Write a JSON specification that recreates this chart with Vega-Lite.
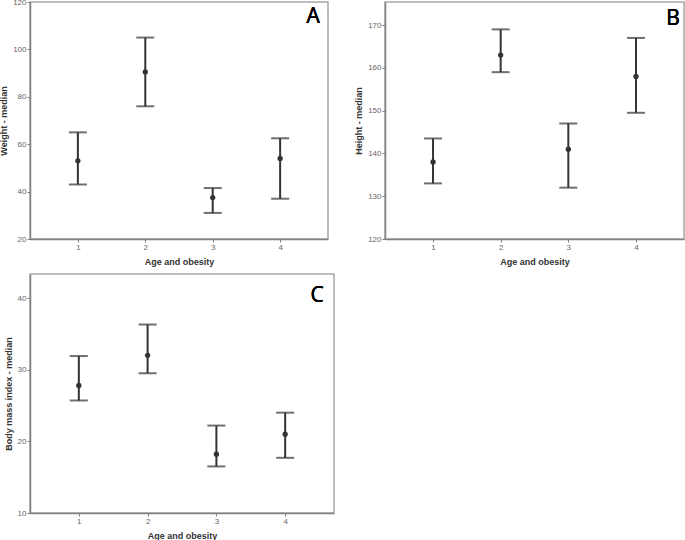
{
  "$schema": "https://vega.github.io/schema/vega-lite/v6.json",
  "padding": {"left": -2, "top": -3, "right": 0, "bottom": 0},
  "background": "white",
  "datasets": {
    "A": [
      {"group": 1, "median": 53, "lo": 43, "hi": 65},
      {"group": 2, "median": 90.5, "lo": 76, "hi": 105},
      {"group": 3, "median": 37.5, "lo": 31, "hi": 41.5},
      {"group": 4, "median": 54, "lo": 37, "hi": 62.5}
    ],
    "B": [
      {"group": 1, "median": 138, "lo": 133, "hi": 143.5},
      {"group": 2, "median": 163, "lo": 159, "hi": 169},
      {"group": 3, "median": 141, "lo": 132, "hi": 147},
      {"group": 4, "median": 158, "lo": 149.5, "hi": 167}
    ],
    "C": [
      {"group": 1, "median": 27.8, "lo": 25.7, "hi": 31.9},
      {"group": 2, "median": 32, "lo": 29.5, "hi": 36.3},
      {"group": 3, "median": 18.2, "lo": 16.5, "hi": 22.2},
      {"group": 4, "median": 21, "lo": 17.7, "hi": 24}
    ]
  },
  "config": {
    "font": "Liberation Sans",
    "view": {"stroke": "#a8a8a8", "strokeWidth": 1.5},
    "axis": {
      "grid": false,
      "domainColor": "#808080",
      "domainWidth": 1.5,
      "tickColor": "#808080",
      "tickSize": 3,
      "labelColor": "#666666",
      "labelFontSize": 8,
      "labelPadding": 1,
      "titleFontSize": 9,
      "titleFontWeight": "bold",
      "titleColor": "#333333"
    }
  },
  "vconcat": [
    {
      "hconcat": [
        {
          "width": 298, "height": 237,
          "data": {"name": "A"},
          "encoding": {
            "x": {"field": "group", "type": "ordinal", "scale": {"type": "point", "padding": 0.71}, "axis": {"title": "Age and obesity", "labelAngle": 0, "titlePadding": 6}},
            "y": {"field": "median", "type": "quantitative", "scale": {"domain": [20, 120], "nice": false, "zero": false}, "axis": {"title": "Weight - median", "values": [20, 40, 60, 80, 100, 120], "titlePadding": 4}}
          },
          "layer": [
            {"mark": {"type": "rule", "color": "#333333", "strokeWidth": 2}, "encoding": {"y": {"field": "lo", "type": "quantitative"}, "y2": {"field": "hi"}}},
            {"mark": {"type": "tick", "color": "#333333", "thickness": 2, "size": 18}, "encoding": {"y": {"field": "lo", "type": "quantitative"}}},
            {"mark": {"type": "tick", "color": "#333333", "thickness": 2, "size": 18}, "encoding": {"y": {"field": "hi", "type": "quantitative"}}},
            {"mark": {"type": "point", "filled": true, "color": "#333333", "size": 28, "opacity": 1}},
            {"mark": {"type": "text", "text": "A", "fontSize": 21, "fontWeight": "normal", "align": "center", "baseline": "alphabetic", "dx": 33, "dy": 21, "color": "#000000", "font": "Open Sans"}, "encoding": {"x": {"datum": 4}, "y": {"datum": 120}}}
          ]
        },
        {
          "width": 299, "height": 237,
          "data": {"name": "B"},
          "encoding": {
            "x": {"field": "group", "type": "ordinal", "scale": {"type": "point", "padding": 0.71}, "axis": {"title": "Age and obesity", "labelAngle": 0, "titlePadding": 6}},
            "y": {"field": "median", "type": "quantitative", "scale": {"domain": [120, 175.4], "nice": false, "zero": false}, "axis": {"title": "Height - median", "values": [120, 130, 140, 150, 160, 170], "titlePadding": 4}}
          },
          "layer": [
            {"mark": {"type": "rule", "color": "#333333", "strokeWidth": 2}, "encoding": {"y": {"field": "lo", "type": "quantitative"}, "y2": {"field": "hi"}}},
            {"mark": {"type": "tick", "color": "#333333", "thickness": 2, "size": 18}, "encoding": {"y": {"field": "lo", "type": "quantitative"}}},
            {"mark": {"type": "tick", "color": "#333333", "thickness": 2, "size": 18}, "encoding": {"y": {"field": "hi", "type": "quantitative"}}},
            {"mark": {"type": "point", "filled": true, "color": "#333333", "size": 28, "opacity": 1}},
            {"mark": {"type": "text", "text": "B", "fontSize": 21, "fontWeight": "normal", "align": "center", "baseline": "alphabetic", "dx": 37, "dy": 23, "color": "#000000", "font": "Open Sans"}, "encoding": {"x": {"datum": 4}, "y": {"datum": 175.4}}}
          ]
        }
      ],
      "spacing": 24
    },
    {
      "width": 304, "height": 239,
      "data": {"name": "C"},
      "encoding": {
        "x": {"field": "group", "type": "ordinal", "scale": {"type": "point", "padding": 0.71}, "axis": {"title": "Age and obesity", "labelAngle": 0, "titlePadding": 6}},
        "y": {"field": "median", "type": "quantitative", "scale": {"domain": [10, 43.35], "nice": false, "zero": false}, "axis": {"title": "Body mass index - median", "values": [10, 20, 30, 40], "titlePadding": 4, "minExtent": 0}}
      },
      "layer": [
        {"mark": {"type": "rule", "color": "#333333", "strokeWidth": 2}, "encoding": {"y": {"field": "lo", "type": "quantitative"}, "y2": {"field": "hi"}}},
        {"mark": {"type": "tick", "color": "#333333", "thickness": 2, "size": 18}, "encoding": {"y": {"field": "lo", "type": "quantitative"}}},
        {"mark": {"type": "tick", "color": "#333333", "thickness": 2, "size": 18}, "encoding": {"y": {"field": "hi", "type": "quantitative"}}},
        {"mark": {"type": "point", "filled": true, "color": "#333333", "size": 28, "opacity": 1}},
        {"mark": {"type": "text", "text": "C", "fontSize": 21, "fontWeight": "normal", "align": "center", "baseline": "alphabetic", "dx": 32, "dy": 28, "color": "#000000", "font": "Open Sans"}, "encoding": {"x": {"datum": 4}, "y": {"datum": 43.35}}}
      ]
    }
  ],
  "spacing": 6
}
